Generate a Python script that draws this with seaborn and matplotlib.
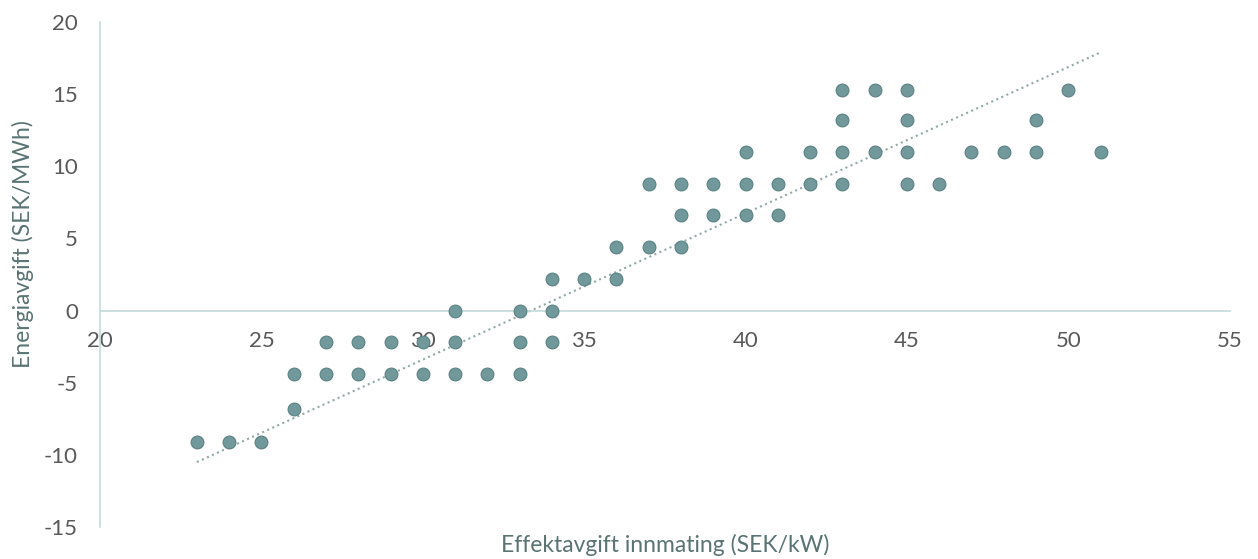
import matplotlib
matplotlib.use('Agg')
import matplotlib.pyplot as plt
import seaborn as sns
import pandas as pd

sns.set_theme(style="white")
plt.rcParams['font.family'] = ['Lato', 'DejaVu Sans']
plt.rcParams['axes.unicode_minus'] = False

# Effektavgift innmating (SEK/kW) vs Energiavgift (SEK/MWh), read row by row
effekt = [43, 44, 45, 50,
          43, 45, 49,
          40, 42, 43, 44, 45, 47, 48, 49, 51,
          37, 38, 39, 40, 41, 42, 43, 45, 46,
          38, 39, 40, 41,
          36, 37, 38,
          34, 35, 36,
          31, 33, 34,
          27, 28, 29, 30, 31, 33, 34,
          26, 27, 28, 29, 30, 31, 32, 33,
          26,
          23, 24, 25]
energi = [15.3, 15.3, 15.3, 15.3,
          13.2, 13.2, 13.2,
          11.0, 11.0, 11.0, 11.0, 11.0, 11.0, 11.0, 11.0, 11.0,
          8.8, 8.8, 8.8, 8.8, 8.8, 8.8, 8.8, 8.8, 8.8,
          6.6, 6.6, 6.6, 6.6,
          4.4, 4.4, 4.4,
          2.2, 2.2, 2.2,
          0.0, 0.0, 0.0,
          -2.2, -2.2, -2.2, -2.2, -2.2, -2.2, -2.2,
          -4.4, -4.4, -4.4, -4.4, -4.4, -4.4, -4.4, -4.4,
          -6.8,
          -9.1, -9.1, -9.1]

# linear trendline as shown in the chart (ends)
trend_x = [23, 51]
trend_y = [-10.5, 17.9]

df = pd.DataFrame({'effekt': effekt, 'energi': energi})
df_trend = pd.DataFrame({'effekt': trend_x, 'energi': trend_y})

fig = plt.figure(figsize=(12.58, 5.59), dpi=100)
ax = fig.add_axes([0.0795, 0.0572, 0.898, 0.9034])

sns.lineplot(data=df_trend, x='effekt', y='energi', color='#93a9a9',
             linestyle=':', linewidth=1.5, ax=ax)
sns.scatterplot(data=df, x='effekt', y='energi', s=85, color='#71999b',
                edgecolor='#5b8183', linewidth=0.8, zorder=3, ax=ax)

ax.set_xlim(20, 55)
ax.set_ylim(-15, 20)
ax.set_xticks(range(20, 56, 5))
ax.set_yticks(range(-15, 21, 5))

for side in ['top', 'right']:
    ax.spines[side].set_visible(False)
ax.spines['bottom'].set_position(('data', 0))
ax.spines['left'].set_color('#c3dada')
ax.spines['bottom'].set_color('#c3dada')
ax.spines['left'].set_linewidth(1.2)
ax.spines['bottom'].set_linewidth(1.2)

ax.tick_params(axis='both', length=0, labelsize=16, labelcolor='#595959')
ax.tick_params(axis='x', pad=15)
ax.tick_params(axis='y', pad=16)

ax.set_xlabel('Effektavgift innmating (SEK/kW)', fontsize=16.5, color='#5a7474')
ax.set_ylabel('Energiavgift (SEK/MWh)', fontsize=16.5, color='#5a7474')
ax.xaxis.set_label_coords(0.5, -0.036)
ax.yaxis.set_label_coords(-0.068, 0.56)
ax.xaxis.label.set_va('center')
ax.yaxis.label.set_va('center')

fig.savefig('out.png', dpi=100)
plt.close()
